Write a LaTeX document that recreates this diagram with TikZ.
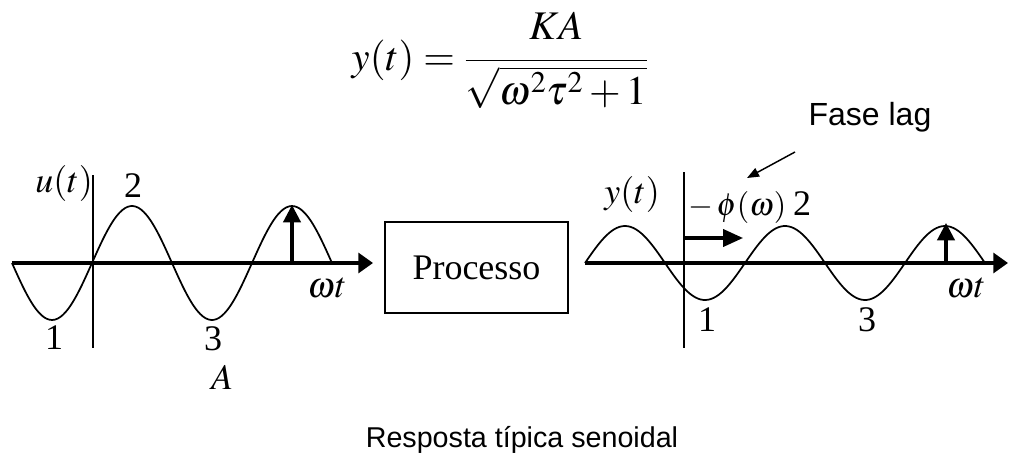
\documentclass[tikz,border=0pt]{standalone}
\usepackage{mathptmx}
\usepackage{fontspec}
\setmainfont{Liberation Serif}
\newfontfamily\arialfont{Liberation Sans}
\usetikzlibrary{arrows.meta}
\tikzset{
  axisline/.style={line width=2.3pt,-{Triangle[length=11pt,width=15pt]}},
  wave/.style={line width=1.3pt},
  vline/.style={line width=1.2pt},
  peakarrow/.style={line width=2.3pt,-{Triangle[length=13pt,width=13pt]}},
  lagarrow/.style={line width=2.3pt,-{Triangle[length=15pt,width=13pt]}},
  notearrow/.style={line width=1.1pt,-{Triangle[length=9pt,width=7pt]}},
  lbl/.style={inner sep=0pt,anchor=base,font=\fontsize{27}{32}\selectfont},
  procbox/.style={draw,line width=1.1pt,minimum width=183*0.75pt,minimum height=91*0.75pt,inner sep=0pt,font=\fontsize{27}{32}\selectfont},
  sanslbl/.style={inner sep=0pt,anchor=base}
}
\begin{document}
\begin{tikzpicture}[x=0.75pt,y=-0.75pt]
\useasboundingbox (0,0) rectangle (1010,453);
% formula
\node[inner sep=0pt,font=\fontsize{30.5}{36}\selectfont] (eq) at (500,60) {$\displaystyle y(t)=\frac{\raisebox{3pt}{$KA$}}{\sqrt{\omega^2\tau^2+1}}$};
% left graph
\coordinate (la0) at (12,263);
\coordinate (la1) at (373,263);
\draw[axisline] (la0) -- (la1);
\coordinate (lv0) at (93,175);
\coordinate (lv1) at (93,348);
\draw[vline] (lv0) -- (lv1);
\draw[wave] plot[domain=12:332,samples=120,smooth] (\x,{263+57*sin(2.25*(\x-12))});
\coordinate (lp0) at (292,264);
\coordinate (lp1) at (292,205);
\draw[peakarrow] (lp0) -- (lp1);
\node[lbl] (ut) at (64,192) {$u(t)$};
\node[lbl] (l2) at (133,197) {2};
\node[lbl] (l1) at (54,349) {1};
\node[lbl] (l3) at (213,350) {3};
\node[lbl] (lA) at (222,389) {$A$};
\node[lbl] (lwt) at (327,297) {$\omega t$};
% box
\node[procbox] (proc) at (476.5,267.5) {Processo};
% right graph
\coordinate (ra0) at (585,263);
\coordinate (ra1) at (1008,263);
\draw[axisline] (ra0) -- (ra1);
\coordinate (rv0) at (684,172);
\coordinate (rv1) at (684,348);
\draw[vline] (rv0) -- (rv1);
\draw[wave] plot[domain=585:985,samples=150,smooth] (\x,{263-37*sin(2.25*(\x-585))});
\coordinate (rp0) at (946,264);
\coordinate (rp1) at (946,223);
\draw[peakarrow] (rp0) -- (rp1);
\coordinate (rh0) at (684,238);
\coordinate (rh1) at (743,238);
\draw[lagarrow] (rh0) -- (rh1);
\node[lbl] (yt) at (632,203) {$y(t)$};
\node[lbl,anchor=base west,font=\fontsize{24}{29}\selectfont] (phi) at (688,215) {$-\,\phi(\omega)$};
\node[lbl] (r2) at (802,215) {2};
\node[lbl] (r1) at (707,331) {1};
\node[lbl] (r3) at (867,331) {3};
\node[lbl] (rwt) at (966,297) {$\omega t$};
% fase lag
\node[sanslbl,font=\arialfont\fontsize{24}{29}\selectfont] (fl) at (870,125) {Fase lag};
\coordinate (fa0) at (795,152);
\coordinate (fa1) at (747,178);
\draw[notearrow] (fa0) -- (fa1);
% caption
\node[sanslbl,font=\arialfont\fontsize{21.5}{26}\selectfont] (cap) at (522,447) {Resposta típica senoidal};
\end{tikzpicture}
\end{document}
